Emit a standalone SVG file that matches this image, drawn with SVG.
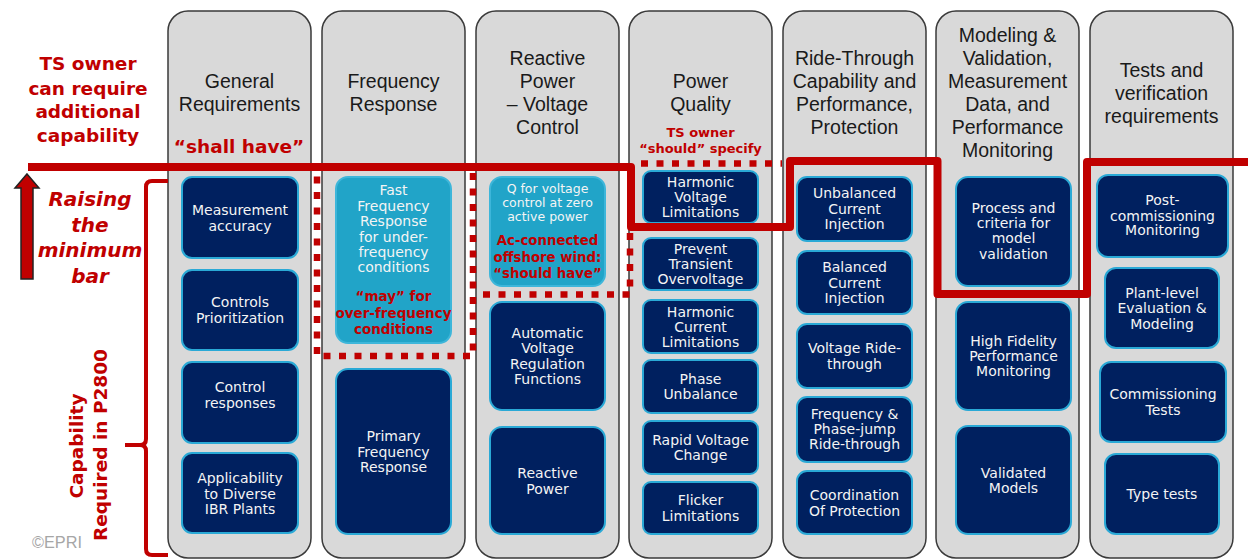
<svg xmlns="http://www.w3.org/2000/svg" width="1248" height="559" viewBox="0 0 1248 559">
  <style>
    .col { fill: #d9d9d9; stroke: #3a3a3a; stroke-width: 1.5; }
    .hdr { font-family: "Liberation Sans", Arial, sans-serif; font-size: 19.5px; fill: #1a1a1a; text-anchor: middle; }
    .box { fill: #00205f; stroke: #2aa9d6; stroke-width: 2; }
    .lbox { fill: #21a4c8; stroke: #3db6da; stroke-width: 2; }
    .bt { font-family: "DejaVu Sans", Verdana, sans-serif; font-size: 14px; fill: #f4f4f4; text-anchor: middle; }
    .bts { font-family: "DejaVu Sans", Verdana, sans-serif; font-size: 12.5px; fill: #f4f4f4; text-anchor: middle; }
    .red { font-family: "DejaVu Sans", Verdana, sans-serif; font-weight: bold; fill: #c00000; text-anchor: middle; }
    .bar { fill: none; stroke: #c00000; stroke-width: 8; stroke-linejoin: round; }
    .dots { fill: none; stroke: #c00000; stroke-width: 6.5; stroke-dasharray: 7 8.5; }
  </style>

  <!-- column backgrounds -->
  <g id="columns">
    <rect class="col" x="168" y="11" width="143" height="547" rx="20"/>
    <rect class="col" x="322" y="11" width="143" height="547" rx="20"/>
    <rect class="col" x="476" y="11" width="143" height="547" rx="20"/>
    <rect class="col" x="629" y="11" width="143" height="547" rx="20"/>
    <rect class="col" x="783" y="11" width="143" height="547" rx="20"/>
    <rect class="col" x="936" y="11" width="143" height="547" rx="20"/>
    <rect class="col" x="1090" y="11" width="143" height="547" rx="20"/>
  </g>

  <!-- column headings -->
  <g id="headers">
    <text class="hdr" x="239.5"><tspan x="239.5" y="88">General</tspan><tspan x="239.5" y="111">Requirements</tspan></text>
    <text class="red" x="239" y="153" font-size="18.5">“shall have”</text>
    <text class="hdr"><tspan x="393.5" y="88">Frequency</tspan><tspan x="393.5" y="111">Response</tspan></text>
    <text class="hdr"><tspan x="547.5" y="65">Reactive</tspan><tspan x="547.5" y="88">Power</tspan><tspan x="547.5" y="111">– Voltage</tspan><tspan x="547.5" y="134">Control</tspan></text>
    <text class="hdr"><tspan x="700.5" y="88">Power</tspan><tspan x="700.5" y="111">Quality</tspan></text>
    <text class="red" font-size="13"><tspan x="700.5" y="137">TS owner</tspan><tspan x="700.5" y="153">“should” specify</tspan></text>
    <text class="hdr"><tspan x="854.5" y="65">Ride-Through</tspan><tspan x="854.5" y="88">Capability and</tspan><tspan x="854.5" y="111">Performance,</tspan><tspan x="854.5" y="134">Protection</tspan></text>
    <text class="hdr"><tspan x="1007.5" y="42">Modeling &amp;</tspan><tspan x="1007.5" y="65">Validation,</tspan><tspan x="1007.5" y="88">Measurement</tspan><tspan x="1007.5" y="111">Data, and</tspan><tspan x="1007.5" y="134">Performance</tspan><tspan x="1007.5" y="157">Monitoring</tspan></text>
    <text class="hdr"><tspan x="1161.5" y="77">Tests and</tspan><tspan x="1161.5" y="100">verification</tspan><tspan x="1161.5" y="123">requirements</tspan></text>
  </g>

  <!-- left-hand annotations -->
  <g id="left-labels">
    <text class="red" font-size="18.5"><tspan x="88" y="70">TS owner</tspan><tspan x="88" y="95">can require</tspan><tspan x="88" y="118">additional</tspan><tspan x="88" y="142">capability</tspan></text>
    <text class="red" font-size="20" font-style="italic"><tspan x="90" y="206">Raising</tspan><tspan x="90" y="232">the</tspan><tspan x="90" y="257">minimum</tspan><tspan x="90" y="283">bar</tspan></text>
    <polygon points="27,174 39,188 33,188 33,279 21,279 21,188 15,188" fill="#c00000" stroke="#222" stroke-width="1.5" stroke-linejoin="miter"/>
    <text class="red" font-size="18.5" transform="translate(83,446) rotate(-90)" x="0" y="0">Capability</text>
    <text class="red" font-size="18.5" transform="translate(107,445) rotate(-90)" x="0" y="0">Required in P2800</text>
    <path d="M168 181 H152 Q146 181 146 187 V439 Q146 445 140 445 H125 M140 445 Q146 445 146 451 V549 Q146 555 152 555 H168" fill="none" stroke="#c00000" stroke-width="4"/>
    <text x="32" y="548" font-family="'Liberation Sans', Arial, sans-serif" font-size="16.3" fill="#a6a6a6">©EPRI</text>
  </g>

  <!-- General Requirements -->
  <g id="gen-measurement"><rect class="box" x="182" y="177" width="116" height="81" rx="10"/><text class="bt"><tspan x="240" y="215">Measurement</tspan><tspan x="240" y="230.5">accuracy</tspan></text></g>
  <g id="gen-prioritization"><rect class="box" x="182" y="270" width="116" height="80" rx="10"/><text class="bt"><tspan x="240" y="307">Controls</tspan><tspan x="240" y="322.5">Prioritization</tspan></text></g>
  <g id="gen-responses"><rect class="box" x="182" y="362" width="116" height="81" rx="10"/><text class="bt"><tspan x="240" y="392">Control</tspan><tspan x="240" y="407.5">responses</tspan></text></g>
  <g id="gen-applicability"><rect class="box" x="182" y="453" width="116" height="80" rx="10"/><text class="bt"><tspan x="240" y="483">Applicability</tspan><tspan x="240" y="498.5">to Diverse</tspan><tspan x="240" y="514">IBR Plants</tspan></text></g>

  <!-- Frequency Response -->
  <g id="freq-fast"><rect class="lbox" x="336" y="177" width="115" height="166" rx="12"/>
    <text class="bt"><tspan x="393.5" y="195">Fast</tspan><tspan x="393.5" y="211">Frequency</tspan><tspan x="393.5" y="226">Response</tspan><tspan x="393.5" y="242">for under-</tspan><tspan x="393.5" y="257">frequency</tspan><tspan x="393.5" y="272">conditions</tspan></text>
    <text class="red" font-size="13.5"><tspan x="393.5" y="301">“may” for</tspan><tspan x="393.5" y="317.5">over-frequency</tspan><tspan x="393.5" y="334">conditions</tspan></text>
  </g>
  <g id="freq-primary"><rect class="box" x="336" y="369" width="115" height="165" rx="12"/><text class="bt"><tspan x="393.5" y="441">Primary</tspan><tspan x="393.5" y="456.5">Frequency</tspan><tspan x="393.5" y="472">Response</tspan></text></g>

  <!-- Reactive Power - Voltage Control -->
  <g id="rpv-offshore"><rect class="lbox" x="490" y="177" width="115" height="109" rx="12"/>
    <text class="bts"><tspan x="547.5" y="193">Q for voltage</tspan><tspan x="547.5" y="207">control at zero</tspan><tspan x="547.5" y="220.5">active power</tspan></text>
    <text class="red" font-size="13.3"><tspan x="547.5" y="245">Ac-connected</tspan><tspan x="547.5" y="261.5">offshore wind:</tspan><tspan x="547.5" y="278">“should have”</tspan></text>
  </g>
  <g id="rpv-avr"><rect class="box" x="490" y="302" width="115" height="108" rx="12"/><text class="bt"><tspan x="547.5" y="337.5">Automatic</tspan><tspan x="547.5" y="353">Voltage</tspan><tspan x="547.5" y="368.5">Regulation</tspan><tspan x="547.5" y="384">Functions</tspan></text></g>
  <g id="rpv-reactive"><rect class="box" x="490" y="427" width="115" height="107" rx="12"/><text class="bt"><tspan x="547.5" y="478">Reactive</tspan><tspan x="547.5" y="493.5">Power</tspan></text></g>

  <!-- Power Quality -->
  <g id="pq-hv"><rect class="box" x="643" y="171" width="115" height="52" rx="8"/><text class="bt"><tspan x="700.5" y="187">Harmonic</tspan><tspan x="700.5" y="202">Voltage</tspan><tspan x="700.5" y="217">Limitations</tspan></text></g>
  <g id="pq-pto"><rect class="box" x="643" y="238" width="115" height="52" rx="8"/><text class="bt"><tspan x="700.5" y="253.5">Prevent</tspan><tspan x="700.5" y="269">Transient</tspan><tspan x="700.5" y="284">Overvoltage</tspan></text></g>
  <g id="pq-hc"><rect class="box" x="643" y="300" width="115" height="53" rx="8"/><text class="bt"><tspan x="700.5" y="316.5">Harmonic</tspan><tspan x="700.5" y="331.5">Current</tspan><tspan x="700.5" y="346.5">Limitations</tspan></text></g>
  <g id="pq-pu"><rect class="box" x="643" y="360" width="115" height="53" rx="8"/><text class="bt"><tspan x="700.5" y="383.5">Phase</tspan><tspan x="700.5" y="399">Unbalance</tspan></text></g>
  <g id="pq-rvc"><rect class="box" x="643" y="421" width="115" height="53" rx="8"/><text class="bt"><tspan x="700.5" y="444.5">Rapid Voltage</tspan><tspan x="700.5" y="460">Change</tspan></text></g>
  <g id="pq-flicker"><rect class="box" x="643" y="482" width="115" height="52" rx="8"/><text class="bt"><tspan x="700.5" y="505">Flicker</tspan><tspan x="700.5" y="521">Limitations</tspan></text></g>

  <!-- Ride-Through -->
  <g id="rt-uci"><rect class="box" x="797" y="177" width="115" height="64" rx="10"/><text class="bt"><tspan x="854.5" y="198">Unbalanced</tspan><tspan x="854.5" y="214">Current</tspan><tspan x="854.5" y="229">Injection</tspan></text></g>
  <g id="rt-bci"><rect class="box" x="797" y="251" width="115" height="63" rx="10"/><text class="bt"><tspan x="854.5" y="272">Balanced</tspan><tspan x="854.5" y="287.5">Current</tspan><tspan x="854.5" y="302.5">Injection</tspan></text></g>
  <g id="rt-vrt"><rect class="box" x="797" y="324" width="115" height="64" rx="10"/><text class="bt"><tspan x="854.5" y="353">Voltage Ride-</tspan><tspan x="854.5" y="368.5">through</tspan></text></g>
  <g id="rt-fpj"><rect class="box" x="797" y="397" width="115" height="65" rx="10"/><text class="bt"><tspan x="854.5" y="418.5">Frequency &amp;</tspan><tspan x="854.5" y="434">Phase-jump</tspan><tspan x="854.5" y="449">Ride-through</tspan></text></g>
  <g id="rt-cop"><rect class="box" x="797" y="471" width="115" height="63" rx="10"/><text class="bt"><tspan x="854.5" y="500">Coordination</tspan><tspan x="854.5" y="516">Of Protection</tspan></text></g>

  <!-- Modeling & Validation -->
  <g id="mv-process"><rect class="box" x="956" y="177" width="115" height="109" rx="12"/><text class="bt"><tspan x="1013.5" y="213">Process and</tspan><tspan x="1013.5" y="228">criteria for</tspan><tspan x="1013.5" y="243">model</tspan><tspan x="1013.5" y="258.5">validation</tspan></text></g>
  <g id="mv-hfpm"><rect class="box" x="956" y="302" width="115" height="108" rx="12"/><text class="bt"><tspan x="1013.5" y="345.5">High Fidelity</tspan><tspan x="1013.5" y="361">Performance</tspan><tspan x="1013.5" y="376">Monitoring</tspan></text></g>
  <g id="mv-validated"><rect class="box" x="956" y="426" width="115" height="108" rx="12"/><text class="bt"><tspan x="1013.5" y="477.5">Validated</tspan><tspan x="1013.5" y="493">Models</tspan></text></g>

  <!-- Tests and verification -->
  <g id="tv-post"><rect class="box" x="1097" y="175" width="131" height="82" rx="11"/><text class="bt"><tspan x="1162.5" y="205">Post-</tspan><tspan x="1162.5" y="220.5">commissioning</tspan><tspan x="1162.5" y="235">Monitoring</tspan></text></g>
  <g id="tv-plant"><rect class="box" x="1105" y="268" width="114" height="80" rx="11"/><text class="bt"><tspan x="1162" y="298">Plant-level</tspan><tspan x="1162" y="313">Evaluation &amp;</tspan><tspan x="1162" y="328.5">Modeling</tspan></text></g>
  <g id="tv-commissioning"><rect class="box" x="1100" y="362" width="126" height="80" rx="11"/><text class="bt"><tspan x="1163" y="399">Commissioning</tspan><tspan x="1163" y="414.5">Tests</tspan></text></g>
  <g id="tv-type"><rect class="box" x="1105" y="454" width="114" height="80" rx="11"/><text class="bt"><tspan x="1162" y="498.5">Type tests</tspan></text></g>

  <!-- minimum-bar lines -->
  <g id="connectors">
    <path class="dots" d="M473 173 V356 H317 V173"/>
    <path class="dots" d="M630 233 V294.5 H478"/>
    <path class="dots" d="M641 163.5 H782"/>
    <path class="bar" d="M28 167 H631 V227 H790 V161 H937.5 V294 H1087 V162 H1248"/>
  </g>
</svg>
